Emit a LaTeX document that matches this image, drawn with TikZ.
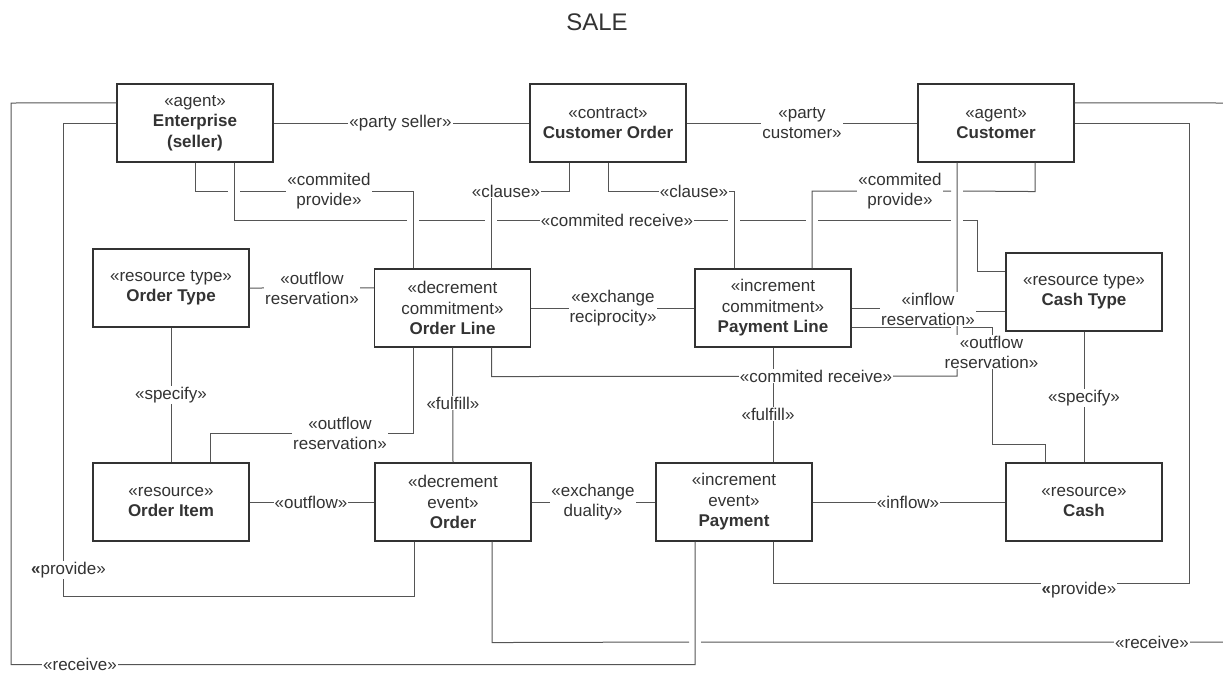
\documentclass[tikz,border=0pt]{standalone}
\usepackage{fontspec}
\setmainfont{Liberation Sans}
\definecolor{ink}{HTML}{333333}
\definecolor{linegray}{HTML}{555555}
\tikzset{
    box/.style={draw=ink, line width=1.1pt, fill=white, minimum width=156pt, minimum height=78pt,
        inner sep=0pt, align=center, text=ink, font=\fontsize{17}{20.5}\selectfont},
    lbl/.style={fill=white, inner sep=1pt, align=center, text=ink, font=\fontsize{17}{20}\selectfont},
    link/.style={draw=linegray, line width=1pt}
}
\begin{document}
\begin{tikzpicture}[x=1pt,y=-1pt]
    \useasboundingbox (0,0) rectangle (1223,672);
    \node[text=ink, font=\fontsize{24}{28}\selectfont] (title) at (597,22) {SALE};
    % 上排
    \node[box] (ent)  at (195,123)  {«agent»\\\textbf{Enterprise}\\\textbf{(seller)}};
    \node[box] (co)   at (608,123)  {«contract»\\\textbf{Customer Order}};
    \node[box] (cust) at (996,123)  {«agent»\\\textbf{Customer}};
    % 中排
    \node[box] (otype) at (171,288)   {«resource type»\\\textbf{Order Type}};
    \node[box] (oline) at (452.5,308) {«decrement\\commitment»\\\textbf{Order Line}};
    \node[box] (pline) at (773,308)   {«increment\\commitment»\\\textbf{Payment Line}};
    \node[box] (ctype) at (1084,292)  {«resource type»\\\textbf{Cash Type}};
    % 下排
    \node[box] (oitem) at (171,502)  {«resource»\\\textbf{Order Item}};
    \node[box] (order) at (453,502)  {«decrement\\event»\\\textbf{Order}};
    \node[box] (pay)   at (734,502)  {«increment\\event»\\\textbf{Payment}};
    \node[box] (cash)  at (1084,502) {«resource»\\\textbf{Cash}};
    \coordinate (eastR) at (1223,642);%右边出图
    \coordinate (eastC) at (1223,103);

    \draw[link] (ent.east) -- (co.west);
    \draw[link] (co.east) -- (cust.west);
    \draw[link] (ent.south) |- (228,191) (240,191) -| ([xshift=-39pt]oline.north);%交叉处断开
    \draw[link] ([xshift=39pt]ent.south) |- (407,220) (419,220) -- (485,220) (497,220) -- (728,220)
        (740,220) -- (806,220) (818,220) -- (951,220) (963,220) -- (977,220) |- ([yshift=-19.5pt]ctype.north west);
    \draw[link] ([xshift=-39pt]co.south) -- ++(0,29) -| ([xshift=39pt]oline.north);
    \draw[link] (co.south) -- ++(0,29) -| ([xshift=-39pt]pline.north);
    \draw[link] ([xshift=39pt]cust.south) -- ++(0,29) -- (963,191) (951,191) -| ([xshift=39pt]pline.north);
    \draw[link] ([xshift=39pt]oline.south) -- ++(0,29) -- (957,376) -- ([xshift=-39pt]cust.south);
    \draw[link] (otype.east) -- ([yshift=-19.5pt]oline.north west);
    \draw[link] (otype.south) -- (oitem.north);
    \draw[link] (oline.east) -- (pline.west);
    \draw[link] ([xshift=-39pt]oline.south) -- ++(0,86) -| ([xshift=39pt]oitem.north);
    \draw[link] (oline.south) -- (order.north);
    \draw[link] (pline.south) -- ([xshift=39pt]pay.north);
    \draw[link] (pline.east) -- (928,308) |- ([yshift=-19.5pt]ctype.west);
    \draw[link] ([yshift=-19.5pt]pline.east) -- (951,327.5) (963,327.5) -| (992,444) -| ([xshift=-39pt]cash.north);
    \draw[link] (ctype.south) -- (cash.north);
    \draw[link] (oitem.east) -- (order.west);
    \draw[link] (order.east) -- (pay.west);
    \draw[link] (pay.east) -- (cash.west);
    % 外圈
    \draw[link] ([xshift=-39pt]order.south) -- ++(0,55) -| (63,123) -- (ent.west);
    \draw[link] ([xshift=-39pt]pay.south) -- ++(0,123) -| (11,103) -- ([yshift=-19.5pt]ent.north west);
    \draw[link] ([xshift=39pt]pay.south) -- ++(0,42) -| (1189,123) -- (cust.east);
    \draw[link] ([xshift=39pt]order.south) -- ++(0,101) -- (689,642) (701,642) -- (eastR);
    \draw[link] ([yshift=-19.5pt]cust.north east) -- (eastC);

    % 标签
    \node[lbl] (lSeller)   at (400.5,123) {«party seller»};
    \node[lbl] (lCustomer) at (802,123)   {«party\\customer»};
    \node[lbl] (lProvE)    at (329,191)   {«commited\\provide»};
    \node[lbl] (lClauseA)  at (506,191)   {«clause»};
    \node[lbl] (lClauseB)  at (694,191)   {«clause»};
    \node[lbl] (lRecvTop)  at (617,220)   {«commited receive»};
    \node[lbl] (lProvC)    at (900,191)   {«commited\\provide»};
    \node[lbl] (lOutResA)  at (312,288)   {«outflow\\reservation»};
    \node[lbl] (lRecip)    at (613,308)   {«exchange\\reciprocity»};
    \node[lbl] (lInRes)    at (928,309)   {«inflow\\reservation»};
    \node[lbl] (lOutResB)  at (991.5,352) {«outflow\\reservation»};
    \node[lbl] (lRecvMid)  at (816,376)   {«commited receive»};
    \node[lbl] (lSpecA)    at (171,395)   {«specify»};
    \node[lbl] (lFulA)     at (453,403)   {«fulfill»};
    \node[lbl] (lOutResC)  at (340,433)   {«outflow\\reservation»};
    \node[lbl] (lFulB)     at (768,414)   {«fulfill»};
    \node[lbl] (lSpecB)    at (1084,398)  {«specify»};
    \node[lbl] (lOutflow)  at (311,502)   {«outflow»};
    \node[lbl] (lDuality)  at (593,502)   {«exchange\\duality»};
    \node[lbl] (lInflow)   at (908,502)   {«inflow»};
    \node[lbl] (lProvR)    at (1079,590)  {\textbf{«}provide»};
    \node[lbl] (lProvL)    at (68.5,570)  {\textbf{«}provide»};
    \node[lbl] (lRecvL)    at (80,664)    {«receive»};
    \node[lbl] (lRecvR)    at (1152,642)  {«receive»};
\end{tikzpicture}
\end{document}
